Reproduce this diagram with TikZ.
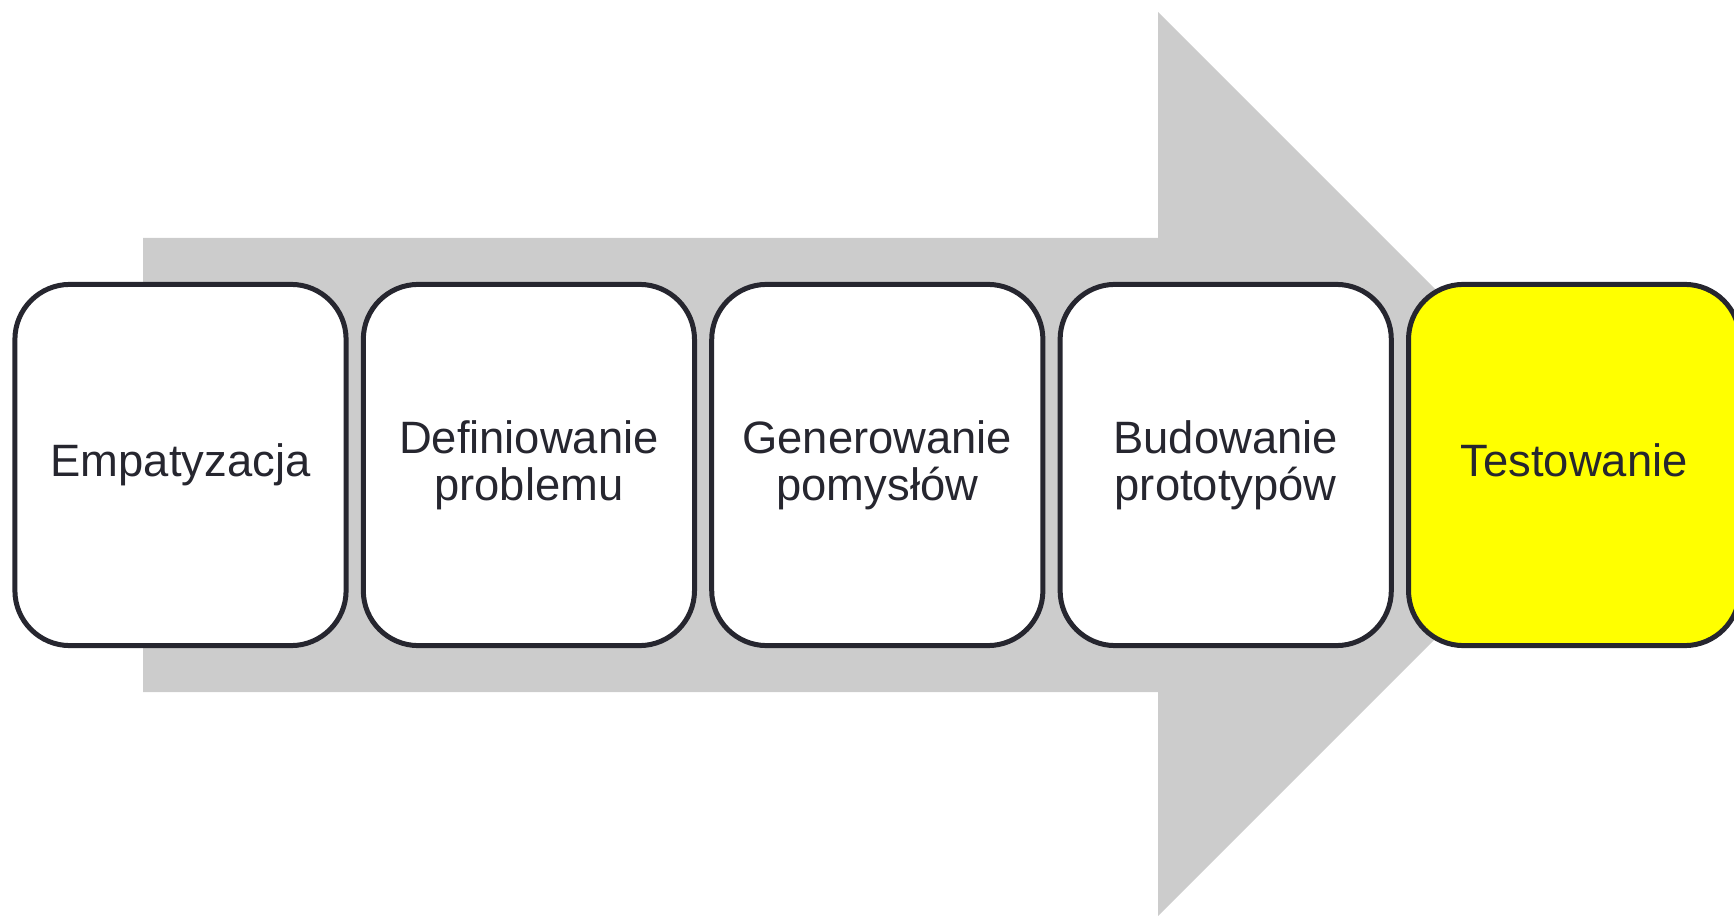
\documentclass[tikz,border=0pt]{standalone}
\usepackage{fontspec}
\setmainfont{Liberation Sans}
\usetikzlibrary{positioning}
\definecolor{arrowgray}{HTML}{CCCCCC}
\definecolor{inkdark}{HTML}{26262F}
\definecolor{testyellow}{HTML}{FFFF00}

\begin{document}
\begin{tikzpicture}[x=0.01cm,y=-0.01cm,node distance=0.172cm,
    stage/.style={draw=inkdark,line width=1.42pt,rounded corners=0.55cm,fill=white,
      minimum width=3.31cm,minimum height=3.61cm,inner sep=0pt,outer sep=0pt,
      align=center,text=inkdark,font=\fontsize{12.9}{13.4}\selectfont,
      execute at end node=\vphantom{p}}]
        \clip (0,0) rectangle (1734,916);
        % big gray arrow behind the stages
        \fill[arrowgray] (143,238) -- (1158,238) -- (1158,12) -- (1610,464)
            -- (1158,916) -- (1158,692) -- (143,692) -- cycle;
        \node[stage] (empathize) at (180.5,465) {Empatyzacja};
        \node[stage,right=of empathize] (define) {Definiowanie\\problemu};
        \node[stage,right=of define] (ideate) {Generowanie\\pomysłów};
        \node[stage,right=of ideate] (prototype) {Budowanie\\prototypów};
        \node[stage,right=of prototype,fill=testyellow] (test) {Testowanie};
      \end{tikzpicture}
\end{document}
